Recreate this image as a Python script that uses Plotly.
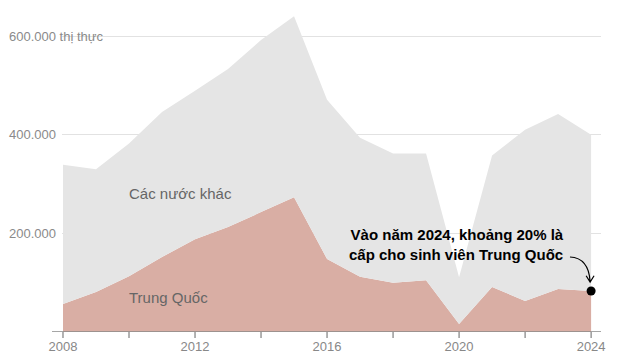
import plotly.graph_objects as go

years = list(range(2008, 2025))
total = [339000, 330000, 382000, 446000, 489000, 533000, 592000, 640000, 471000,
         394000, 362000, 362000, 111000, 358000, 410000, 442000, 400000]
china = [57000, 81000, 113000, 152000, 188000, 213000, 243000, 273000, 148000,
         112000, 100000, 105000, 16000, 91000, 63000, 87000, 83000]
others = [t - c for t, c in zip(total, china)]

ytick_vals = [200000, 400000, 600000]
ytick_text = ["200.000", "400.000", "600.000 thị thực"]
xtick_vals = [2008, 2012, 2016, 2020, 2024]

GREY = "#e5e5e5"
SALMON = "#d9aea4"
FONT = "Liberation Sans"

fig = go.Figure()
fig.add_trace(go.Scatter(x=years, y=china, mode="lines", line=dict(width=0),
                         fillcolor=SALMON, stackgroup="a", hoverinfo="skip"))
fig.add_trace(go.Scatter(x=years, y=others, mode="lines", line=dict(width=0),
                         fillcolor=GREY, stackgroup="a", hoverinfo="skip"))
fig.add_trace(go.Scatter(x=[years[-1]], y=[china[-1]], mode="markers",
                         marker=dict(color="black", size=9), hoverinfo="skip"))

fig.update_layout(
    width=622, height=354,
    margin=dict(l=54, r=29, t=2, b=30),
    plot_bgcolor="white", paper_bgcolor="white",
    showlegend=False,
    font=dict(family=FONT, color="#888888", size=13),
    xaxis=dict(range=[2007.97, 2024.3], showgrid=False, zeroline=False,
               tickvals=xtick_vals, ticktext=[str(v) for v in xtick_vals],
               tickfont=dict(size=13, color="#888888"), ticklabelstandoff=5,
               showline=False, ticks="", fixedrange=True),
    yaxis=dict(range=[0, 652700], showgrid=True, gridcolor="#e2e2e2", gridwidth=1,
               tickvals=ytick_vals, showticklabels=False, zeroline=False,
               showline=False, fixedrange=True),
)

# x axis baseline and ticks
fig.add_shape(type="line", xref="paper", yref="y", x0=-10/539, x1=1, y0=0, y1=0,
              line=dict(color="#888888", width=1.5))
for yr in range(2008, 2025, 2):
    fig.add_shape(type="line", xref="x", yref="paper", x0=yr, x1=yr,
                  y0=0, y1=-6/322, line=dict(color="#666666", width=1))

# y tick labels
for v, t in zip(ytick_vals, ytick_text):
    fig.add_annotation(x=-55/539, xref="paper", y=v, yref="y", text=t,
                       showarrow=False, xanchor="left", yanchor="middle",
                       font=dict(size=13, color="#8a8a8a", family=FONT))

# series labels
fig.add_annotation(x=2010, y=281000, text="Các nước khác", showarrow=False,
                   xanchor="left", yanchor="middle", xshift=-2,
                   font=dict(size=15, color="#666666", family=FONT))
fig.add_annotation(x=2010, y=70000, text="Trung Quốc", showarrow=False,
                   xanchor="left", yanchor="middle", xshift=-2,
                   font=dict(size=15, color="#666666", family=FONT))

# callout
fig.add_annotation(x=2023.23, y=178000, text="Vào năm 2024, khoảng 20% là<br>cấp cho sinh viên Trung Quốc",
                   showarrow=False, xanchor="right", yanchor="middle", align="right",
                   font=dict(size=15, color="black", family=FONT, weight="bold"))
fig.add_shape(type="path", xref="x", yref="y",
              path="M 2023.36,152000 Q 2023.93,150000 2023.97,102000 "
                   "M 2023.85,114000 L 2023.97,101000 L 2024.09,114000",
              line=dict(color="black", width=1.2))

fig.write_html("out.html")
